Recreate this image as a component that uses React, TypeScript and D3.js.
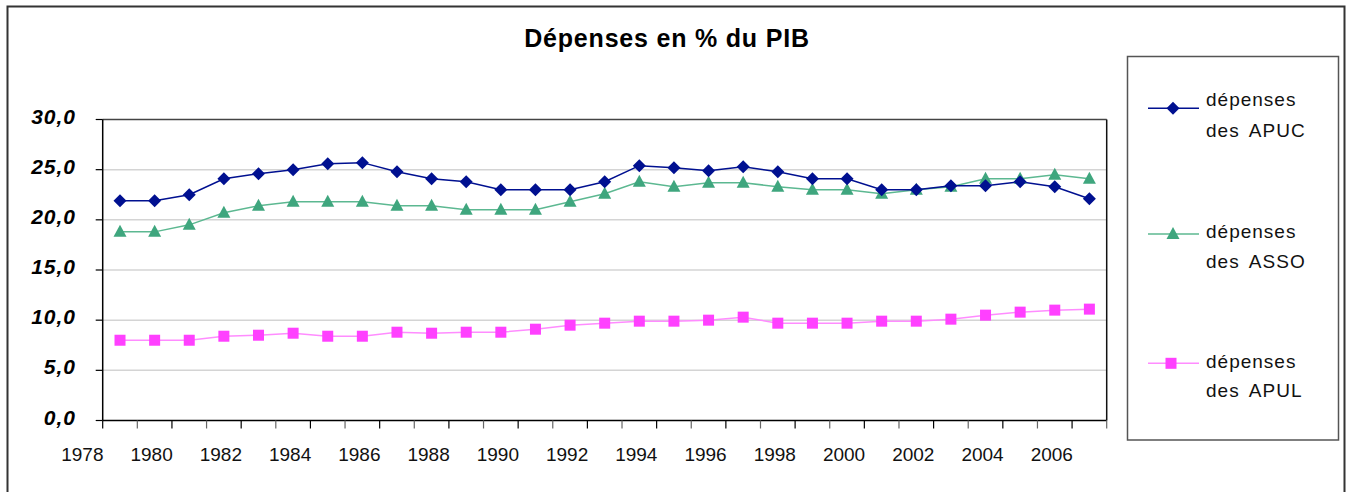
import React from "react";
import * as d3 from "d3";

const years = [1979,1980,1981,1982,1983,1984,1985,1986,1987,1988,1989,1990,1991,1992,1993,1994,1995,1996,1997,1998,1999,2000,2001,2002,2003,2004,2005,2006,2007];
const apuc = [21.9,21.9,22.5,24.1,24.6,25.0,25.6,25.7,24.8,24.1,23.8,23.0,23.0,23.0,23.8,25.4,25.2,24.9,25.3,24.8,24.1,24.1,23.0,23.0,23.4,23.4,23.8,23.3,22.1];
const asso = [18.8,18.8,19.5,20.7,21.4,21.8,21.8,21.8,21.4,21.4,21.0,21.0,21.0,21.8,22.6,23.8,23.3,23.7,23.7,23.3,23.0,23.0,22.6,23.0,23.3,24.1,24.1,24.5,24.1];
const apul = [8.0,8.0,8.0,8.4,8.5,8.7,8.4,8.4,8.8,8.7,8.8,8.8,9.1,9.5,9.7,9.9,9.9,10.0,10.3,9.7,9.7,9.7,9.9,9.9,10.1,10.5,10.8,11.0,11.1];
const yTicks = [0,5,10,15,20,25,30];
const xLabels = [1978,1980,1982,1984,1986,1988,1990,1992,1994,1996,1998,2000,2002,2004,2006];
const legendNames = [["dépenses","des APUC"],["dépenses","des ASSO"],["dépenses","des APUL"]];

const C_APUC = "#001090";
const C_ASSO = "#3fa67e";
const C_ASSO_LINE = "#5cb891";
const C_APUL = "#ff40ff";
const C_APUL_LINE = "#ff8cff";

export default function App() {
  const L = 102.7, R = 1106.7, T = 119.5, B = 420.5;
  const x = d3.scaleLinear().domain([1978.5, 2007.5]).range([L, R]);
  const y = d3.scaleLinear().domain([0, 30]).range([B, T]);
  const line = d3.line<number>().x((_, i) => x(years[i])).y(d => y(d));
  const tickYears = d3.range(1978.5, 2008, 1);

  const diamond = (cx: number, cy: number, k: string) => (
    <path key={k} d={`M${cx},${cy - 6.5}L${cx + 6.5},${cy}L${cx},${cy + 6.5}L${cx - 6.5},${cy}Z`} fill={C_APUC} />
  );
  const triangle = (cx: number, cy: number, k: string) => (
    <path key={k} d={`M${cx},${cy - 7}L${cx + 6.5},${cy + 5}L${cx - 6.5},${cy + 5}Z`} fill={C_ASSO} />
  );
  const square = (cx: number, cy: number, k: string) => (
    <rect key={k} x={cx - 5.5} y={cy - 5.5} width={11} height={11} fill={C_APUL} />
  );

  const legendY = [108.3, 234, 363.3];
  const legendB1 = [106, 238, 368];
  const legendB2 = [137, 268, 397];

  return (
    <svg width={1351} height={492} style={{ position: "absolute", left: 0, top: 0 }} fontFamily="Arial, 'Liberation Sans', sans-serif">
      <rect x={0} y={0} width={1351} height={492} fill="#fff" />
      <path d="M7.5,500V6.5H1344.5V500" fill="none" stroke="#333" strokeWidth={2} />
      <text x={667} y={46.5} textAnchor="middle" fontSize={25} fontWeight="bold" letterSpacing={0.8} fill="#000">Dépenses en % du PIB</text>

      {yTicks.filter(t => t > 0 && t < 30).map(t => (
        <line key={"g" + t} x1={L} x2={R} y1={y(t)} y2={y(t)} stroke="#d4d4d4" strokeWidth={1.5} />
      ))}
      <line x1={L} x2={R} y1={y(30)} y2={y(30)} stroke="#444" strokeWidth={1.5} />
      <line x1={R} x2={R} y1={y(30)} y2={B} stroke="#111" strokeWidth={1.5} />
      <line x1={L} x2={L} y1={T} y2={B} stroke="#000" strokeWidth={1.5} />
      <line x1={L} x2={R} y1={B} y2={B} stroke="#000" strokeWidth={1.5} />
      {yTicks.map(t => (
        <g key={"yt" + t}>
          <line x1={L - 7} x2={L} y1={y(t)} y2={y(t)} stroke="#000" strokeWidth={1.2} />
          <text x={76} y={y(t) + 4} textAnchor="end" fontSize={21} fontWeight="bold" fontStyle="italic" letterSpacing={1} fill="#000">
            {d3.format(".1f")(t).replace(".", ",")}
          </text>
        </g>
      ))}
      {tickYears.map((t, i) => (
        <line key={"xt" + i} x1={x(t)} x2={x(t)} y1={B} y2={B + 8} stroke={i % 2 === 0 ? "#000" : "#666"} strokeWidth={1.2} />
      ))}
      {xLabels.map(yr => (
        <text key={"xl" + yr} x={x(yr) - 3} y={461} textAnchor="middle" fontSize={19} fill="#111">{yr}</text>
      ))}

      <path d={line(apul) || ""} fill="none" stroke={C_APUL_LINE} strokeWidth={1.5} />
      <path d={line(asso) || ""} fill="none" stroke={C_ASSO_LINE} strokeWidth={1.5} />
      <path d={line(apuc) || ""} fill="none" stroke={C_APUC} strokeWidth={1.5} />
      {apul.map((v, i) => square(x(years[i]), y(v), "s" + i))}
      {asso.map((v, i) => triangle(x(years[i]), y(v), "t" + i))}
      {apuc.map((v, i) => diamond(x(years[i]), y(v), "d" + i))}

      <rect x={1127.5} y={56.5} width={211} height={383.5} fill="#fff" stroke="#555" strokeWidth={1.5} />
      {legendNames.map((nm, i) => {
        const ly = legendY[i];
        const col = i === 0 ? C_APUC : i === 1 ? C_ASSO_LINE : C_APUL_LINE;
        return (
          <g key={"lg" + i}>
            <line x1={1148} x2={1199} y1={ly} y2={ly} stroke={col} strokeWidth={1.5} />
            {i === 0 ? diamond(1173, ly, "ld") : i === 1 ? triangle(1173, ly, "lt") : square(1171, ly, "ls")}
            <text x={1206} y={legendB1[i]} fontSize={19} letterSpacing={1} fill="#111">{nm[0]}</text>
            <text x={1206} y={legendB2[i]} fontSize={19} letterSpacing={1} wordSpacing={4} fill="#111">{nm[1]}</text>
          </g>
        );
      })}
    </svg>
  );
}
